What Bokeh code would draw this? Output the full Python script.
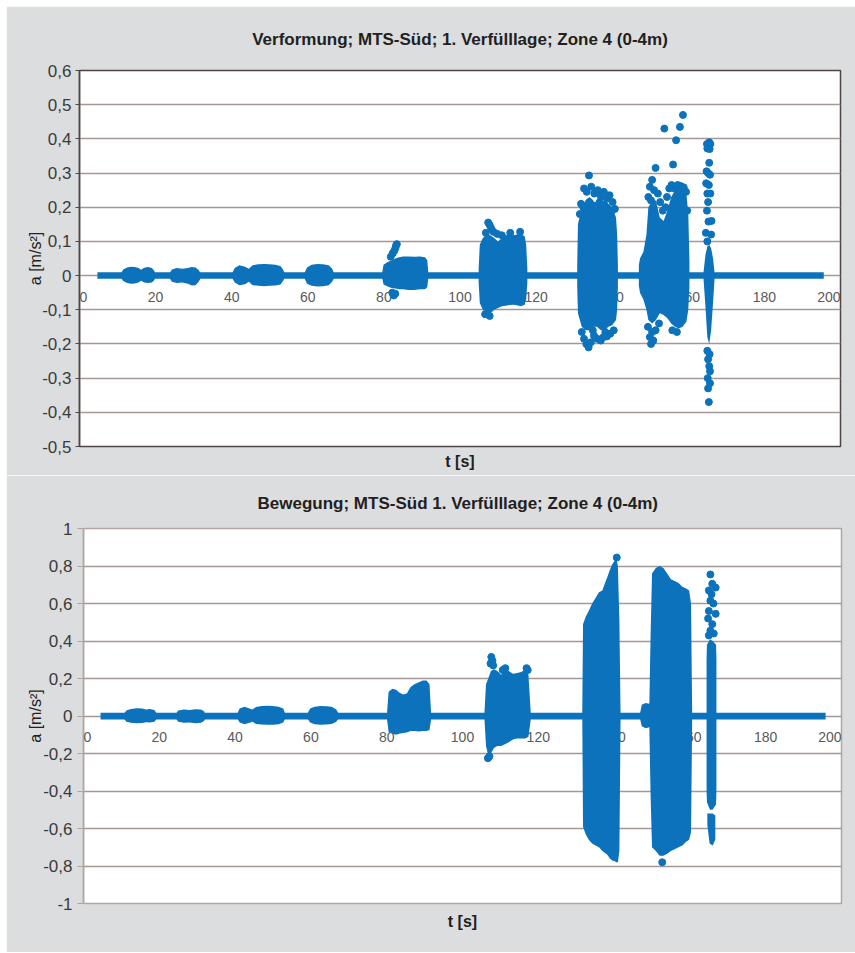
from bokeh.plotting import figure
from bokeh.models import Range1d, FixedTicker, LinearAxis, CustomJSTickFormatter, Spacer, Label
from bokeh.layouts import column, row
from bokeh.embed import file_html
from bokeh.resources import INLINE

# ---------------- data ----------------
x_ticks_inner = [20, 40, 60, 80, 100, 120, 140, 160, 180]
x_ticks_edge = [0, 200]
top_y_ticks = [-0.5, -0.4, -0.3, -0.2, -0.1, 0.0, 0.1, 0.2, 0.3, 0.4, 0.5, 0.6]
bot_y_ticks = [-1.0, -0.8, -0.6, -0.4, -0.2, 0.0, 0.2, 0.4, 0.6, 0.8, 1.0]

top_title = "Verformung; MTS-Süd; 1. Verfülllage; Zone 4 (0-4m)"
bot_title = "Bewegung;  MTS-Süd  1. Verfülllage; Zone 4 (0-4m)"
x_label = "t [s]"
y_label = "a [m/s²]"

# --- upper chart (Verformung): quiet baseline + dense bursts (outer envelope) ---
top_base_t = [4.7, 195.6]
top_base_hi = [0.0095, 0.0095]
top_base_lo = [-0.0095, -0.0095]

top_b1_t = [10.8, 11.5, 12.5, 13.5, 14.5, 15.5, 16.2, 17.0, 18.0, 19.0, 19.6, 20.0]
top_b1_hi = [0.005, 0.018, 0.024, 0.026, 0.025, 0.022, 0.017, 0.023, 0.025, 0.022, 0.015, 0.005]
top_b1_lo = [-0.005, -0.016, -0.022, -0.024, -0.023, -0.02, -0.015, -0.02, -0.022, -0.02, -0.014, -0.005]

top_b2_t = [23.5, 24.3, 25.5, 27.0, 28.5, 29.5, 30.5, 31.3, 32.0]
top_b2_hi = [0.005, 0.018, 0.022, 0.02, 0.022, 0.025, 0.024, 0.016, 0.005]
top_b2_lo = [-0.005, -0.018, -0.022, -0.02, -0.024, -0.029, -0.028, -0.018, -0.005]

top_b3_t = [40.0, 40.8, 42.0, 43.5, 44.5, 45.5, 47.0, 48.5, 50.0, 51.5, 52.8, 53.5, 54.0]
top_b3_hi = [0.005, 0.022, 0.03, 0.026, 0.02, 0.03, 0.033, 0.034, 0.033, 0.032, 0.028, 0.018, 0.005]
top_b3_lo = [-0.005, -0.02, -0.028, -0.025, -0.018, -0.028, -0.03, -0.031, -0.03, -0.029, -0.026, -0.016, -0.005]

top_b4_t = [59.0, 59.8, 61.0, 62.5, 64.0, 65.5, 66.4, 67.0]
top_b4_hi = [0.005, 0.024, 0.032, 0.034, 0.033, 0.03, 0.02, 0.005]
top_b4_lo = [-0.005, -0.024, -0.03, -0.032, -0.031, -0.028, -0.018, -0.005]

top_b5_t = [79.5, 79.9, 81.0, 82.0, 83.0, 84.0, 85.0, 86.5, 88.0, 89.5, 90.8, 91.4, 91.7]
top_b5_hi = [0.005, 0.032, 0.04, 0.044, 0.05, 0.054, 0.056, 0.056, 0.055, 0.056, 0.054, 0.045, 0.005]
top_b5_lo = [-0.005, -0.026, -0.032, -0.036, -0.038, -0.04, -0.04, -0.042, -0.042, -0.04, -0.04, -0.034, -0.005]

top_b6_t = [104.9, 105.2, 106.0, 107.0, 108.0, 109.0, 110.0, 111.0, 112.0, 113.0, 114.0, 115.0, 116.0, 117.0, 117.4, 117.7]
top_b6_hi = [0.02, 0.09, 0.11, 0.12, 0.118, 0.11, 0.1, 0.11, 0.118, 0.12, 0.118, 0.12, 0.122, 0.115, 0.09, 0.02]
top_b6_lo = [-0.02, -0.08, -0.1, -0.112, -0.11, -0.1, -0.095, -0.09, -0.088, -0.086, -0.085, -0.087, -0.09, -0.085, -0.07, -0.02]

top_b7_t = [130.8, 131.0, 132.0, 133.0, 134.0, 135.0, 136.0, 137.0, 138.0, 139.0, 140.0, 141.0, 141.3, 141.5]
top_b7_hi = [0.03, 0.15, 0.2, 0.22, 0.23, 0.22, 0.2, 0.21, 0.22, 0.21, 0.2, 0.17, 0.12, 0.03]
top_b7_lo = [-0.03, -0.11, -0.15, -0.16, -0.16, -0.15, -0.15, -0.16, -0.16, -0.15, -0.145, -0.13, -0.1, -0.03]

top_b8_t = [147.0, 147.3, 148.2, 149.0, 149.5, 150.5, 151.5, 152.5, 153.5, 154.5, 155.5, 156.5, 157.5, 158.5, 159.5, 160.0, 160.3]
top_b8_hi = [0.03, 0.05, 0.07, 0.12, 0.2, 0.22, 0.22, 0.17, 0.16, 0.19, 0.23, 0.25, 0.26, 0.26, 0.24, 0.18, 0.04]
top_b8_lo = [-0.03, -0.05, -0.07, -0.1, -0.13, -0.14, -0.13, -0.11, -0.115, -0.125, -0.14, -0.15, -0.155, -0.15, -0.135, -0.1, -0.03]

top_b9_t = [164.0, 164.5, 165.0, 165.5, 166.0, 166.5, 166.9]
top_b9_hi = [0.01, 0.06, 0.085, 0.09, 0.08, 0.05, 0.01]
top_b9_lo = [-0.01, -0.09, -0.18, -0.2, -0.16, -0.08, -0.01]

# isolated points of the upper chart (t, a)
top_pts_t = [81.8, 82.3, 82.7, 83.0, 83.2, 83.4, 82.2, 82.6, 83.0,
             107.4, 107.8, 108.2, 108.8, 109.8, 111.0, 106.8, 113.2, 115.8, 107.8, 106.6,
             133.9, 132.6, 133.3, 134.5, 135.3, 136.2, 137.0, 137.8, 138.6, 139.3, 140.1, 140.7,
             131.8, 132.4, 135.8, 138.0, 139.9, 134.0, 136.7, 131.5,
             132.0, 132.6, 133.2, 133.8, 134.4, 135.2, 136.1, 137.0, 137.7, 138.6, 139.5, 140.4, 134.9, 138.2,
             151.4, 150.5, 149.9, 151.0, 149.5, 152.0, 152.6, 153.7, 157.8, 158.6, 156.8, 156.0,
             154.4, 155.0, 155.6, 156.4, 157.2, 158.0, 158.8, 159.4, 153.3, 154.0, 159.7, 150.2,
             149.4, 149.9, 150.2, 150.8, 150.5, 151.4, 152.3, 155.8, 157.0,
             165.5, 165.8, 165.6, 164.9, 165.2, 165.0, 165.5, 164.8, 165.2, 165.7, 164.7, 165.4,
             165.0, 165.8, 165.2, 164.9, 165.3, 166.1, 164.6, 166.0, 165.0,
             165.0, 165.6, 165.2, 165.5, 165.7, 165.1, 165.7, 165.2, 165.4]
top_pts_a = [0.055, 0.065, 0.072, 0.08, 0.088, 0.092, -0.05, -0.058, -0.053,
             0.155, 0.148, 0.138, 0.128, 0.122, 0.118, 0.125, 0.125, 0.128, -0.118, -0.113,
             0.293, 0.255, 0.245, 0.26, 0.24, 0.25, 0.232, 0.245, 0.225, 0.235, 0.215, 0.195,
             0.21, 0.2, 0.205, 0.205, 0.19, 0.215, 0.215, 0.18,
             -0.165, -0.185, -0.2, -0.21, -0.195, -0.175, -0.185, -0.19, -0.18, -0.178, -0.17, -0.16, -0.16, -0.165,
             0.315, 0.28, 0.26, 0.25, 0.23, 0.24, 0.215, 0.43, 0.435, 0.47, 0.396, 0.325,
             0.23, 0.255, 0.265, 0.255, 0.265, 0.262, 0.258, 0.245, 0.19, 0.2, 0.19, 0.22,
             -0.15, -0.18, -0.2, -0.19, -0.165, -0.16, -0.14, -0.16, -0.165,
             0.39, 0.385, 0.37, 0.385, 0.38, 0.372, 0.33, 0.305, 0.3, 0.295, 0.27, 0.265,
             0.24, 0.24, 0.215, 0.19, 0.158, 0.16, 0.125, 0.12, 0.1,
             -0.22, -0.23, -0.245, -0.265, -0.28, -0.3, -0.315, -0.33, -0.37]

# --- lower chart (Bewegung) ---
bot_base_t = [4.5, 195.8]
bot_base_hi = [0.018, 0.018]
bot_base_lo = [-0.018, -0.018]

bot_b1_t = [10.6, 11.3, 12.5, 14.0, 15.5, 16.5, 17.5, 18.7, 19.5]
bot_b1_hi = [0.01, 0.03, 0.038, 0.042, 0.04, 0.035, 0.038, 0.032, 0.01]
bot_b1_lo = [-0.01, -0.03, -0.036, -0.038, -0.037, -0.033, -0.035, -0.03, -0.01]

bot_b2_t = [24.3, 25.0, 26.5, 28.0, 29.5, 31.0, 31.8, 32.2]
bot_b2_hi = [0.01, 0.03, 0.035, 0.032, 0.036, 0.035, 0.025, 0.01]
bot_b2_lo = [-0.01, -0.03, -0.036, -0.034, -0.038, -0.036, -0.026, -0.01]

bot_b3_t = [40.5, 41.2, 42.5, 43.8, 44.6, 45.5, 47.0, 48.5, 50.0, 51.5, 52.7, 53.3]
bot_b3_hi = [0.01, 0.04, 0.05, 0.04, 0.035, 0.048, 0.053, 0.055, 0.054, 0.05, 0.04, 0.01]
bot_b3_lo = [-0.01, -0.035, -0.044, -0.036, -0.03, -0.042, -0.045, -0.047, -0.046, -0.044, -0.035, -0.01]

bot_b4_t = [59.0, 59.8, 61.0, 62.5, 64.0, 65.5, 66.7, 67.4]
bot_b4_hi = [0.01, 0.04, 0.05, 0.053, 0.052, 0.05, 0.035, 0.01]
bot_b4_lo = [-0.01, -0.035, -0.044, -0.046, -0.045, -0.043, -0.03, -0.01]

bot_b5_t = [80.1, 80.5, 81.5, 82.5, 83.3, 84.3, 85.3, 86.3, 87.3, 88.5, 89.5, 90.5, 91.3, 91.7]
bot_b5_hi = [0.02, 0.13, 0.145, 0.14, 0.125, 0.115, 0.12, 0.155, 0.17, 0.18, 0.19, 0.19, 0.17, 0.02]
bot_b5_lo = [-0.02, -0.085, -0.095, -0.1, -0.095, -0.09, -0.088, -0.08, -0.08, -0.082, -0.08, -0.08, -0.075, -0.02]

bot_b6_t = [105.8, 106.2, 106.8, 107.5, 108.3, 109.2, 110.2, 111.2, 112.2, 113.3, 114.4, 115.5, 116.6, 117.4, 118.0]
bot_b6_hi = [0.02, 0.17, 0.2, 0.24, 0.25, 0.24, 0.22, 0.245, 0.24, 0.225, 0.23, 0.235, 0.25, 0.22, 0.02]
bot_b6_lo = [-0.02, -0.16, -0.21, -0.2, -0.17, -0.16, -0.16, -0.15, -0.14, -0.125, -0.12, -0.12, -0.12, -0.11, -0.02]

bot_b7_t = [131.6, 131.8, 132.5, 133.3, 134.2, 135.1, 136.0, 136.9, 137.6, 138.2, 138.9, 139.5, 140.2, 140.6, 141.0, 141.4, 141.7]
bot_b7_hi = [0.02, 0.49, 0.53, 0.56, 0.6, 0.63, 0.66, 0.67, 0.71, 0.74, 0.78, 0.81, 0.83, 0.84, 0.8, 0.5, 0.02]
bot_b7_lo = [-0.02, -0.59, -0.63, -0.66, -0.68, -0.69, -0.7, -0.72, -0.73, -0.74, -0.76, -0.77, -0.775, -0.78, -0.78, -0.72, -0.02]

bot_b8_t = [146.8, 147.3, 148.3, 149.3, 149.6, 150.0, 151.0, 152.0, 153.0, 154.0, 155.0, 156.0, 157.0, 158.0, 159.0, 159.8, 160.3, 160.6]
bot_b8_hi = [0.01, 0.06, 0.07, 0.065, 0.4, 0.76, 0.79, 0.8, 0.79, 0.76, 0.73, 0.72, 0.71, 0.69, 0.68, 0.67, 0.6, 0.02]
bot_b8_lo = [-0.01, -0.055, -0.065, -0.06, -0.4, -0.7, -0.72, -0.745, -0.745, -0.735, -0.72, -0.71, -0.7, -0.69, -0.67, -0.66, -0.62, -0.02]

bot_b9_t = [164.4, 164.5, 165.3, 166.0, 166.9, 167.0]
bot_b9_hi = [0.3, 0.38, 0.41, 0.4, 0.38, 0.3]
bot_b9_lo = [-0.4, -0.46, -0.5, -0.5, -0.47, -0.4]

bot_b10_t = [164.6, 165.2, 166.0, 166.7]
bot_b10_hi = [-0.52, -0.52, -0.52, -0.53]
bot_b10_lo = [-0.58, -0.68, -0.69, -0.66]

bot_pts_t = [107.6, 107.9, 107.4, 108.1, 110.6, 111.3, 116.9, 117.2, 106.7, 107.1,
             140.7, 152.7,
             165.4, 165.9, 165.0, 166.8, 165.4, 165.0, 166.8, 165.9, 165.4, 165.0, 166.3, 164.8, 166.2, 165.7]
bot_pts_a = [0.315, 0.295, 0.28, 0.27, 0.245, 0.255, 0.255, 0.245, -0.225, -0.215,
             0.845, -0.78,
             0.755, 0.705, 0.67, 0.685, 0.615, 0.56, 0.545, 0.49, 0.455, 0.43, 0.44, 0.52, 0.6, 0.65]

top_bursts = [(top_b1_t, top_b1_hi, top_b1_lo), (top_b2_t, top_b2_hi, top_b2_lo),
              (top_b3_t, top_b3_hi, top_b3_lo), (top_b4_t, top_b4_hi, top_b4_lo),
              (top_b5_t, top_b5_hi, top_b5_lo), (top_b6_t, top_b6_hi, top_b6_lo),
              (top_b7_t, top_b7_hi, top_b7_lo), (top_b8_t, top_b8_hi, top_b8_lo),
              (top_b9_t, top_b9_hi, top_b9_lo)]
bot_bursts = [(bot_b1_t, bot_b1_hi, bot_b1_lo), (bot_b2_t, bot_b2_hi, bot_b2_lo),
              (bot_b3_t, bot_b3_hi, bot_b3_lo), (bot_b4_t, bot_b4_hi, bot_b4_lo),
              (bot_b5_t, bot_b5_hi, bot_b5_lo), (bot_b6_t, bot_b6_hi, bot_b6_lo),
              (bot_b7_t, bot_b7_hi, bot_b7_lo), (bot_b8_t, bot_b8_hi, bot_b8_lo),
              (bot_b9_t, bot_b9_hi, bot_b9_lo), (bot_b10_t, bot_b10_hi, bot_b10_lo)]

# ---------------- styling ----------------
BLUE = "#0b72bb"
PAGE = "#dcdddf"
GRID = "#a39894"
FONT = "Liberation Sans"
TICK_COL = "#5a5a5a"

comma_fmt = CustomJSTickFormatter(code="""
    var v = Math.round(tick * 10) / 10;
    return v.toString().replace('.', ',');
""")


def make_chart(title, y_lo, y_hi, y_ticks, height, borders, frame_col, tick_out, label_standoff,
               ylabel_standoff, title_standoff, xlabel_standoff, base, bursts, pts_t, pts_a):
    left, right, top, bottom = borders
    p = figure(width=849, height=height, output_backend="svg", toolbar_location=None,
               x_range=Range1d(0, 200), y_range=Range1d(y_lo, y_hi),
               min_border_left=left, min_border_right=right,
               min_border_top=top, min_border_bottom=bottom,
               background_fill_color="white", border_fill_color=PAGE)
    p.outline_line_color = frame_col
    p.outline_line_width = 1.5

    p.title.text = title
    p.title.align = "center"
    p.title.text_font = FONT
    p.title.text_font_size = "17px"
    p.title.text_font_style = "bold"
    p.title.text_color = "#231f20"
    p.title.standoff = title_standoff

    # y axis
    yax = p.yaxis[0]
    yax.ticker = FixedTicker(ticks=y_ticks)
    yax.formatter = comma_fmt
    yax.axis_line_color = frame_col
    yax.axis_line_width = 1.5
    yax.major_tick_line_color = frame_col
    yax.major_tick_out = tick_out
    yax.major_tick_in = 0
    yax.minor_tick_line_color = None
    yax.major_label_standoff = label_standoff
    yax.major_label_text_font = FONT
    yax.major_label_text_font_size = "17px"
    yax.major_label_text_color = "#3a3a3a"
    yax.axis_label = y_label
    yax.axis_label_text_font = FONT
    yax.axis_label_text_font_size = "16px"
    yax.axis_label_text_font_style = "normal"
    yax.axis_label_text_color = "#231f20"
    yax.axis_label_standoff = ylabel_standoff

    # bottom axis only carries the axis title
    xax = p.xaxis[0]
    xax.ticker = FixedTicker(ticks=[])
    xax.axis_line_color = None
    xax.major_tick_line_color = None
    xax.minor_tick_line_color = None
    xax.axis_label = x_label
    xax.axis_label_text_font = FONT
    xax.axis_label_text_font_size = "16px"
    xax.axis_label_text_font_style = "bold"
    xax.axis_label_text_color = "#231f20"
    xax.axis_label_standoff = xlabel_standoff

    # tick labels of t sit on the zero line; the inner ones lie under the data
    zax = LinearAxis(fixed_location=0, ticker=FixedTicker(ticks=x_ticks_inner), level="underlay")
    zax.axis_line_color = None
    zax.major_tick_line_color = None
    zax.minor_tick_line_color = None
    zax.major_tick_out = 0
    zax.major_tick_in = 0
    zax.major_label_standoff = 16
    zax.major_label_text_font = FONT
    zax.major_label_text_font_size = "14px"
    zax.major_label_text_color = TICK_COL
    p.add_layout(zax, "below")
    for xt, align in zip(x_ticks_edge, ["left", "right"]):
        p.add_layout(Label(x=xt, y=0, y_offset=-16, text=str(xt), text_align=align,
                           text_baseline="top", text_font=FONT, text_font_size="14px",
                           text_color=TICK_COL))

    p.xgrid.visible = False
    p.ygrid.ticker = FixedTicker(ticks=y_ticks)
    p.ygrid.grid_line_color = GRID
    p.ygrid.grid_line_width = 1.3

    bt, bh, bl = base
    p.varea(x=bt, y1=bl, y2=bh, color=BLUE)
    for t, hi, lo in bursts:
        p.varea(x=t, y1=lo, y2=hi, color=BLUE)
    p.scatter(x=pts_t, y=pts_a, size=7, marker="circle", color=BLUE)
    return p


p1 = make_chart(top_title, -0.5, 0.6, top_y_ticks, 469, (73, 15, 64, 29), "#4e4646", 4, 4, -5, 43, 6,
                (top_base_t, top_base_hi, top_base_lo), top_bursts, top_pts_t, top_pts_a)
p2 = make_chart(bot_title, -1.0, 1.0, bot_y_ticks, 477, (77, 14, 53, 49), "#b0a7a3", 6, 5, -4, 32, 9,
                (bot_base_t, bot_base_hi, bot_base_lo), bot_bursts, bot_pts_t, bot_pts_a)

layout = row(Spacer(width=6, height=952),
             column(Spacer(width=849, height=6), row(p1), row(p2), spacing=0), spacing=0)
open("out.html", "w").write(file_html(layout, INLINE))
